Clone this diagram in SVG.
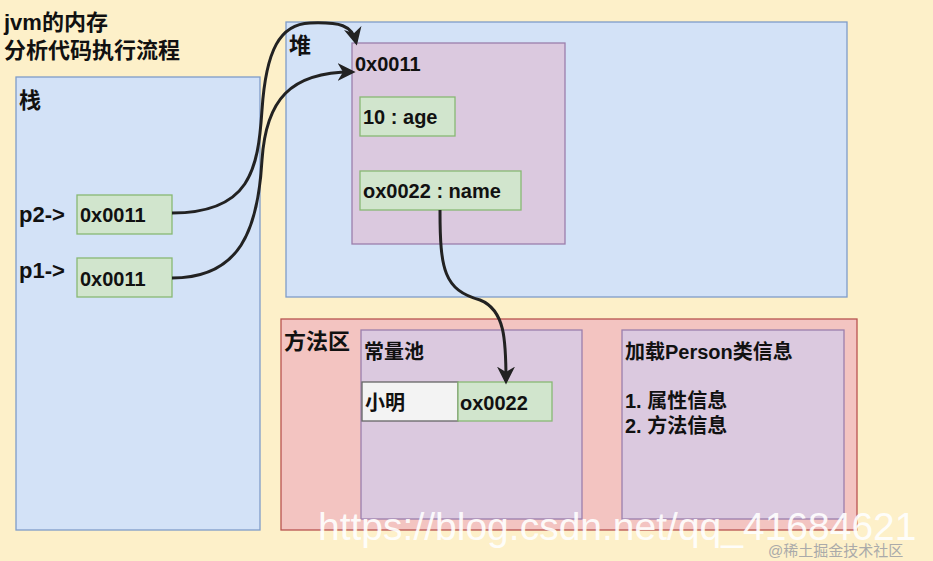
<svg xmlns="http://www.w3.org/2000/svg" width="933" height="561" viewBox="0 0 933 561">
<style>
text{font-family:"Liberation Sans","Noto Sans CJK SC",sans-serif;font-weight:bold;font-size:20px;fill:#111}
.big{font-size:22px}
.blue{fill:#d3e2f7;stroke:#7f9cc9;stroke-width:1.3}
.pur{fill:#dbc9df;stroke:#9b7fac;stroke-width:1.3}
.grn{fill:#d1e5cd;stroke:#88b873;stroke-width:1.3}
.c{fill:none;stroke:#222;stroke-width:3}
</style>
<defs>
<marker id="m" viewBox="0 0 10 10" refX="8" refY="5" markerWidth="18" markerHeight="18" orient="auto" markerUnits="userSpaceOnUse"><path d="M0,0L10,5L0,10L3,5z" fill="#222"/></marker></defs>
<rect width="933" height="561" fill="#fdf0c9"/>
<text class="big" x="4" y="30">jvm的内存</text>
<text class="big" x="4" y="58">分析代码执行流程</text>
<g id="stack"><rect class="blue" x="16" y="77" width="244" height="453"/><text class="big" x="19" y="108">栈</text></g>
<g id="heap"><rect class="blue" x="286" y="22" width="561" height="275"/><text class="big" x="289" y="53">堆</text></g>
<g id="obj"><rect class="pur" x="352" y="43" width="213" height="201"/><text x="355" y="71">0x0011</text></g>
<g id="age"><rect class="grn" x="360" y="97" width="95" height="39"/><text x="363" y="124">10 : age</text></g>
<g id="name"><rect class="grn" x="360" y="171" width="161" height="39"/><text x="363" y="198">ox0022 : name</text></g>
<g id="p2"><text class="big" x="19" y="222">p2-&gt;</text><rect class="grn" x="77" y="195" width="95" height="39"/><text x="80" y="222">0x0011</text></g>
<g id="p1"><text class="big" x="19" y="278">p1-&gt;</text><rect class="grn" x="77" y="258" width="95" height="39"/><text x="80" y="286">0x0011</text></g>
<g id="method"><rect x="281" y="319" width="576" height="211" fill="#f3c4c1" stroke="#b85450" stroke-width="1.3"/><text class="big" x="284" y="349">方法区</text></g>
<g id="pool"><rect class="pur" x="361" y="330" width="221" height="189"/><text x="364" y="359">常量池</text></g>
<g id="xm"><rect x="362" y="382" width="96" height="39" fill="#f3f3f3" stroke="#666" stroke-width="1.3"/><text x="365" y="410">小明</text></g>
<g id="ox"><rect class="grn" x="458" y="382" width="94" height="39"/><text x="460" y="410">ox0022</text></g>
<g id="cls"><rect class="pur" x="622" y="330" width="222" height="189"/><text x="625" y="359">加载Person类信息</text><text x="625" y="408">1. 属性信息</text><text x="625" y="433">2. 方法信息</text></g>
<g id="connectors">
<path class="c" d="M172,213 C250,213 258,170 262,110 C266,50 280,24 310,23 C340,22 352,25 356,42" marker-end="url(#m)"/>
<path class="c" d="M172,278 C240,278 258,230 262,160 C266,100 290,72 352,72" marker-end="url(#m)"/>
<path class="c" d="M440,210 C440,270 444,290 480,300 C505,310 506,340 506,381" marker-end="url(#m)"/>
</g>
<text x="318" y="540" style="font-weight:normal;font-size:39px;fill:#fff;opacity:0.9">https://blog.csdn.net/qq_41684621</text>
<text x="768" y="556" style="font-weight:normal;font-size:15px;fill:#aaa">@稀土掘金技术社区</text>
</svg>
